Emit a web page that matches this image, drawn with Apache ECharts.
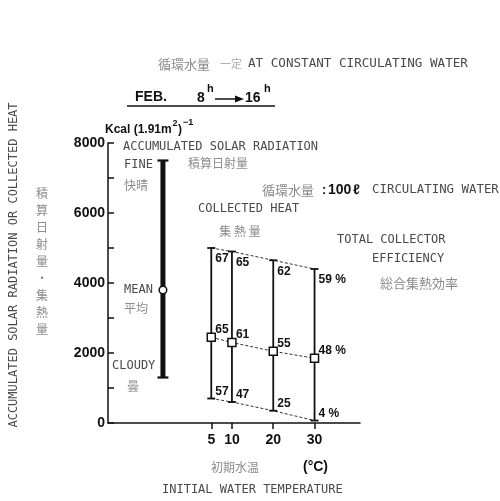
<!DOCTYPE html>
<html>
<head>
<meta charset="utf-8">
<script src="https://cdn.jsdelivr.net/npm/echarts@6/dist/echarts.min.js"></script>
<style>html,body{margin:0;padding:0;background:#fff}#c{width:500px;height:501px}</style>
</head>
<body>
<div id="c"></div>
<script>
// ---- data ----
const temps = [5, 10, 20, 30];              // initial water temperature (°C)
const heatHigh = [5000, 4900, 4650, 4400];  // collected heat, fine day
const heatMean = [2450, 2300, 2050, 1850];  // collected heat, mean
const heatLow = [700, 600, 350, 70];        // collected heat, cloudy day
const effHigh = [67, 65, 62, 59];           // total collector efficiency (%)
const effMean = [65, 61, 55, 48];
const effLow = [57, 47, 25, 4];
const solarX = -6.7;                        // position of the solar radiation bar
const solarRange = [1300, 3800, 7500];      // cloudy, mean, fine
const xTicks = [5, 10, 20, 30];
const yTicks = [0, 2000, 4000, 6000, 8000];

const chart = echarts.init(document.getElementById('c'), null, {renderer: 'canvas'});
const INK = '#111';
const MONO = '"DejaVu Sans Mono", monospace';
const SANS = '"Liberation Sans", Arial, sans-serif';
const CJK = '"Noto Sans CJK JP", sans-serif';
const GRAY = '#4a4a4a';
const KGRAY = '#8c8c8c';

function txt(x, y, text, font, fill, align) {
  return {
    type: 'text', x: x, y: y, silent: true,
    style: {text: text, font: font, fill: fill, textAlign: align || 'left', textVerticalAlign: 'middle'}
  };
}

const heatData = temps.map((t, i) => [t, heatHigh[i], heatMean[i], heatLow[i], effHigh[i], effMean[i], effLow[i]]);
const pct = (v, i) => i === temps.length - 1 ? v + ' %' : String(v);

const graphics = [
  txt(158, 64, '循環水量', '13px ' + CJK, KGRAY),
  txt(220, 64, '一定', '11px ' + CJK, '#aaa'),
  txt(248, 64, 'AT CONSTANT CIRCULATING WATER', '12.6px ' + MONO, GRAY),
  txt(135, 97, 'FEB.', 'bold 14px ' + SANS, INK),
  txt(197, 98, '8', 'bold 14px ' + SANS, INK),
  txt(207, 89, 'h', 'bold 11px ' + SANS, INK),
  txt(245, 98, '16', 'bold 14px ' + SANS, INK),
  txt(264, 89, 'h', 'bold 11px ' + SANS, INK),
  {type: 'line', silent: true, shape: {x1: 215, y1: 99, x2: 238, y2: 99}, style: {stroke: INK, lineWidth: 1.5}},
  {type: 'polygon', silent: true, shape: {points: [[235, 95.5], [244, 99], [235, 102.5]]}, style: {fill: INK}},
  {type: 'line', silent: true, shape: {x1: 127, y1: 106, x2: 275, y2: 106}, style: {stroke: INK, lineWidth: 1.3}},
  txt(105, 130, 'Kcal (1.91m', 'bold 12px ' + SANS, INK),
  txt(172.5, 124, '2', 'bold 9px ' + SANS, INK),
  txt(178, 130, ')', 'bold 12px ' + SANS, INK),
  txt(183, 123, '−1', 'bold 9px ' + SANS, INK),
  txt(123, 147, 'ACCUMULATED SOLAR RADIATION', '12px ' + MONO, GRAY),
  txt(188, 163, '積算日射量', '12px ' + CJK, KGRAY),
  txt(124, 165, 'FINE', '12px ' + MONO, GRAY),
  txt(124, 185, '快晴', '12px ' + CJK, KGRAY),
  txt(262, 190, '循環水量', '13px ' + CJK, KGRAY),
  txt(322, 190, ':', 'bold 13px ' + SANS, INK),
  txt(328, 190, '100', 'bold 14px ' + SANS, INK),
  txt(353, 190, 'ℓ', 'bold 14px ' + SANS, INK),
  txt(372, 190, 'CIRCULATING WATER', '12.4px ' + MONO, GRAY),
  txt(198, 209, 'COLLECTED HEAT', '12px ' + MONO, GRAY),
  txt(240, 231, '集 熱 量', '12px ' + CJK, KGRAY, 'center'),
  txt(337, 240, 'TOTAL COLLECTOR', '12px ' + MONO, GRAY),
  txt(372, 259, 'EFFICIENCY', '12px ' + MONO, GRAY),
  txt(380, 283, '総合集熱効率', '13px ' + CJK, KGRAY),
  txt(124, 290, 'MEAN', '12px ' + MONO, GRAY),
  txt(124, 308, '平均', '12px ' + CJK, KGRAY),
  txt(112, 366, 'CLOUDY', '12px ' + MONO, GRAY),
  txt(127, 386, '曇', '12px ' + CJK, KGRAY),
  txt(211, 467, '初期水温', '12px ' + CJK, KGRAY),
  txt(303, 467, '(°C)', 'bold 14px ' + SANS, INK),
  txt(162, 490, 'INITIAL WATER TEMPERATURE', '12px ' + MONO, GRAY),
  {type: 'text', x: 14, y: 265, rotation: Math.PI / 2, silent: true,
   style: {text: 'ACCUMULATED SOLAR RADIATION OR COLLECTED HEAT', font: '12px ' + MONO, fill: GRAY, textAlign: 'center', textVerticalAlign: 'middle'}},
  {type: 'text', x: 42, y: 185, silent: true,
   style: {text: '積\n算\n日\n射\n量\n・\n集\n熱\n量', font: '12px ' + CJK, fill: KGRAY, textAlign: 'center', textVerticalAlign: 'top', lineHeight: 17}}
];

const option = {
  animation: false,
  backgroundColor: '#fff',
  grid: {left: 108, right: 140, top: 143, bottom: 78, containLabel: false},
  xAxis: {
    type: 'value', min: -20, max: 41,
    axisLine: {show: true, onZero: false, lineStyle: {color: INK, width: 1.5}},
    axisTick: {show: true, customValues: xTicks, length: 6, lineStyle: {color: INK, width: 1.5}},
    axisLabel: {show: true, customValues: xTicks, margin: 10, color: INK, fontFamily: SANS, fontWeight: 'bold', fontSize: 14},
    splitLine: {show: false}
  },
  yAxis: {
    type: 'value', min: 0, max: 8000, interval: 1000,
    axisLine: {show: true, onZero: false, lineStyle: {color: INK, width: 1.5}},
    axisTick: {show: true, inside: true, length: 6, lineStyle: {color: INK, width: 1.5}},
    axisLabel: {show: true, margin: 3, color: INK, fontFamily: SANS, fontWeight: 'bold', fontSize: 14,
      formatter: v => yTicks.indexOf(v) >= 0 ? String(v) : ''},
    splitLine: {show: false}
  },
  series: [
    {type: 'line', data: temps.map((t, i) => [t, heatHigh[i]]), showSymbol: false, z: 1,
     lineStyle: {color: '#333', width: 1, type: [3, 2]}},
    {type: 'line', data: temps.map((t, i) => [t, heatMean[i]]), showSymbol: false, z: 1,
     lineStyle: {color: '#333', width: 1, type: [3, 2]}},
    {type: 'line', data: temps.map((t, i) => [t, heatLow[i]]), showSymbol: false, z: 1,
     lineStyle: {color: '#333', width: 1, type: [3, 2]}},
    {
      type: 'custom', z: 3, data: [[solarX, solarRange[0], solarRange[1], solarRange[2]]],
      renderItem: function (params, api) {
        const x = api.value(0);
        const lo = api.coord([x, api.value(1)]);
        const me = api.coord([x, api.value(2)]);
        const hi = api.coord([x, api.value(3)]);
        return {type: 'group', children: [
          {type: 'line', shape: {x1: hi[0], y1: hi[1], x2: lo[0], y2: lo[1]}, style: {stroke: INK, lineWidth: 5}},
          {type: 'line', shape: {x1: hi[0] - 5.5, y1: hi[1], x2: hi[0] + 5.5, y2: hi[1]}, style: {stroke: INK, lineWidth: 2.2}},
          {type: 'line', shape: {x1: lo[0] - 5.5, y1: lo[1], x2: lo[0] + 5.5, y2: lo[1]}, style: {stroke: INK, lineWidth: 2.2}},
          {type: 'circle', shape: {cx: me[0], cy: me[1], r: 3.8}, style: {fill: '#fff', stroke: INK, lineWidth: 1.5}}
        ]};
      }
    },
    {
      type: 'custom', z: 3, data: heatData,
      renderItem: function (params, api) {
        const i = params.dataIndex;
        const x = api.value(0);
        const hi = api.coord([x, api.value(1)]);
        const me = api.coord([x, api.value(2)]);
        const lo = api.coord([x, api.value(3)]);
        const lf = 'bold 12px ' + SANS;
        const lab = (px, py, s) => ({type: 'text', style: {text: s, x: px, y: py, font: lf, fill: INK, textAlign: 'left', textVerticalAlign: 'middle'}});
        return {type: 'group', children: [
          {type: 'line', shape: {x1: hi[0], y1: hi[1], x2: lo[0], y2: lo[1]}, style: {stroke: INK, lineWidth: 1.8}},
          {type: 'line', shape: {x1: hi[0] - 4, y1: hi[1], x2: hi[0] + 4, y2: hi[1]}, style: {stroke: INK, lineWidth: 1.8}},
          {type: 'line', shape: {x1: lo[0] - 4, y1: lo[1], x2: lo[0] + 4, y2: lo[1]}, style: {stroke: INK, lineWidth: 1.8}},
          {type: 'rect', shape: {x: me[0] - 4, y: me[1] - 4, width: 8, height: 8}, style: {fill: '#fff', stroke: INK, lineWidth: 1.5}},
          lab(hi[0] + 4, hi[1] + 11, pct(api.value(4), i)),
          lab(me[0] + 4, me[1] - 8, pct(api.value(5), i)),
          lab(lo[0] + 4, lo[1] - 7, pct(api.value(6), i))
        ]};
      }
    }
  ],
  graphic: graphics
};
chart.setOption(option);
</script>
</body>
</html>
